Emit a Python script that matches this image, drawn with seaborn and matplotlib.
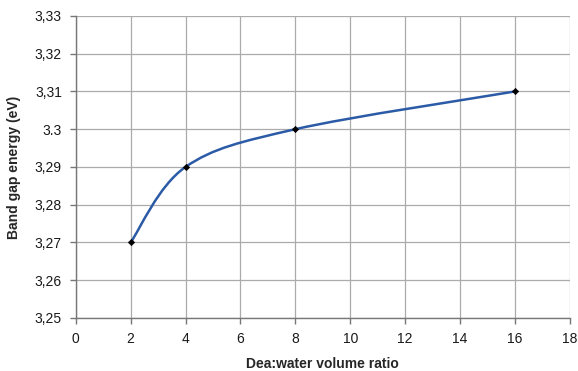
import numpy as np
import matplotlib
matplotlib.use("Agg")
import matplotlib.pyplot as plt
from matplotlib.path import Path
from matplotlib.patches import PathPatch
import seaborn as sns
import pandas as pd

ratio = [2, 4, 8, 16]
band_gap = [3.27, 3.29, 3.30, 3.31]
y_ticks = [3.25, 3.26, 3.27, 3.28, 3.29, 3.30, 3.31, 3.32, 3.33]
y_tick_labels = ["3,25", "3,26", "3,27", "3,28", "3,29", "3.3", "3,31", "3,32", "3,33"]
x_ticks = [0, 2, 4, 6, 8, 10, 12, 14, 16, 18]

sns.set_theme(style="white")
plt.rcParams['font.family'] = ['Liberation Sans', 'DejaVu Sans']

df = pd.DataFrame({"ratio": ratio, "band_gap": band_gap})

fig = plt.figure(figsize=(5.78, 3.71), dpi=100)
ax = fig.add_axes([0.131, 0.143, 0.855, 0.814])

# Smoothed line (Excel-style cubic Bezier through the data points)
pts = np.column_stack([ratio, band_gap]).astype(float)
n = len(pts)
verts = [tuple(pts[0])]
codes = [Path.MOVETO]
t = 1.0 / 6.0
for i in range(n - 1):
    p0 = pts[i - 1] if i > 0 else pts[i]
    p1 = pts[i]
    p2 = pts[i + 1]
    p3 = pts[i + 2] if i + 2 < n else pts[i + 1]
    c1 = p1 + (p2 - p0) * t
    c2 = p2 - (p3 - p1) * t
    verts += [tuple(c1), tuple(c2), tuple(p2)]
    codes += [Path.CURVE4] * 3
ax.add_patch(PathPatch(Path(verts, codes), facecolor="none",
                       edgecolor="#2B5BA6", lw=1.8, zorder=3))

sns.scatterplot(data=df, x="ratio", y="band_gap", ax=ax, marker="D",
                color="black", s=10, edgecolor="black", linewidth=0.5, zorder=4)

ax.set_xlim(0, 18)
ax.set_ylim(3.25, 3.33)
ax.set_xticks(x_ticks)
ax.set_yticks(y_ticks)
ax.set_yticklabels(y_tick_labels)
ax.grid(True, color="#ABABAB", lw=0.9)
for s in ["top", "right"]:
    ax.spines[s].set_visible(False)
for s in ["left", "bottom"]:
    ax.spines[s].set_color("#777777")
    ax.spines[s].set_linewidth(1.0)
ax.tick_params(axis="both", direction="out", length=4, width=1.0,
               color="#777777", labelsize=10, pad=6,
               left=True, bottom=True)
ax.tick_params(axis="both", labelcolor="#1A1A1A")
ax.set_xlabel("Dea:water volume ratio", fontsize=10, fontweight="bold", labelpad=8)
ax.set_ylabel("Band gap energy (eV)", fontsize=10, fontweight="bold", labelpad=10)

fig.savefig("out.png", dpi=100)
